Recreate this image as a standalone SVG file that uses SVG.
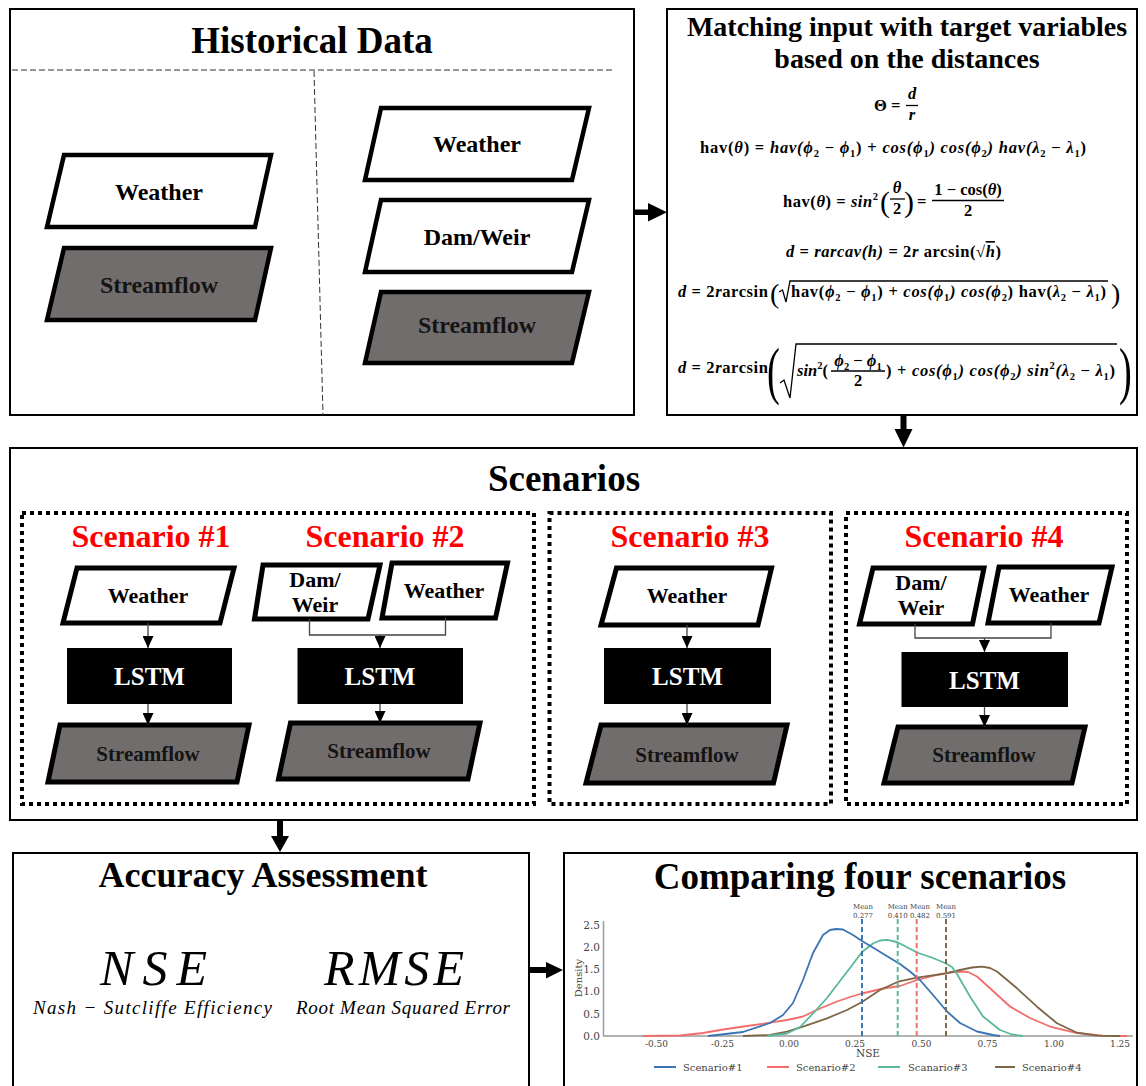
<svg xmlns="http://www.w3.org/2000/svg" width="1146" height="1086" viewBox="0 0 1146 1086">
  <defs>
    <style>
      .box{fill:#fff;stroke:#000;stroke-width:2}
      .title{font-family:"Liberation Serif","Times New Roman",serif;font-weight:bold;text-anchor:middle;fill:#000}
      .para{stroke:#000;stroke-width:5;stroke-linejoin:miter}
      .hp{stroke-width:4.5}
      .in{fill:#fff}
      .out{fill:#716d6d}
      .lbl{font-family:"Liberation Serif","Times New Roman",serif;font-weight:bold;text-anchor:middle;fill:#000}
      .olbl{fill:#141414}
      .dot{fill:none;stroke:#000;stroke-width:4;stroke-dasharray:4 4}
      .scn{fill:#ff0000;font-size:32px}
      .lstm{fill:#000}
      .lstmt{fill:#fff;font-size:25px}
      .thin{fill:none;stroke:#444;stroke-width:1.3}
      .big{fill:#000}
      .f{font-family:"Liberation Serif","Times New Roman",serif;font-weight:bold;font-size:16.5px;fill:#000}
      .i{font-style:italic}
      .s{font-size:10.5px;font-style:normal}
      .par{font-family:"Liberation Serif","Times New Roman",serif;font-weight:normal;fill:#000}
      .rule{stroke:#000;stroke-width:1.3;fill:none}
      .ax{stroke:#9a9a9a;stroke-width:1.5;fill:none}
      .tk{font-family:"DejaVu Serif",serif;fill:#444}
      .kde{fill:none;stroke-width:1.8;stroke-linejoin:round}
      .mean{stroke-width:2;stroke-dasharray:5 3}
      .acc{font-family:"Liberation Serif","Times New Roman",serif;font-style:italic;text-anchor:middle;fill:#000}
    </style>
    <marker id="tip" markerUnits="userSpaceOnUse" markerWidth="12" markerHeight="11" refX="12" refY="5.5" orient="auto">
      <path d="M0,0 L12,5.5 L0,11 z" fill="#000"/>
    </marker>
  </defs>

  <rect width="1146" height="1086" fill="#fff"/>

  <!-- Historical data panel -->
  <g id="historical-data">
    <rect class="box" x="10" y="9" width="624" height="406"/>
    <text class="title" x="312" y="53" font-size="37">Historical Data</text>
    <line x1="12" y1="70" x2="615" y2="70" stroke="#333" stroke-width="1" stroke-dasharray="6 3"/>
    <line x1="314" y1="71" x2="323" y2="415" stroke="#333" stroke-width="1" stroke-dasharray="6 3"/>
  </g>
  <g id="hist-weather-a">
    <polygon class="para hp in" points="64,155 271,155 255,227 47,227"/>
    <text class="lbl" x="159" y="200" font-size="24">Weather</text>
  </g>
  <g id="hist-streamflow-a">
    <polygon class="para hp out" points="64,248 271,248 255,320 47,320"/>
    <text class="lbl olbl" x="159" y="293" font-size="24">Streamflow</text>
  </g>
  <g id="hist-weather-b">
    <polygon class="para hp in" points="381,108 589,108 572,180 365,180"/>
    <text class="lbl" x="477" y="152" font-size="24">Weather</text>
  </g>
  <g id="hist-damweir-b">
    <polygon class="para hp in" points="381,200 589,200 572,272 365,272"/>
    <text class="lbl" x="477" y="245" font-size="24">Dam/Weir</text>
  </g>
  <g id="hist-streamflow-b">
    <polygon class="para hp out" points="381,292 589,292 572,363 365,363"/>
    <text class="lbl olbl" x="477" y="333" font-size="24">Streamflow</text>
  </g>

  <!-- Distance matching panel with haversine formulas -->
  <g id="matching">
    <rect class="box" x="667" y="9" width="470" height="406"/>
    <text class="title" x="907" y="36" font-size="28">Matching input with target variables</text>
    <text class="title" x="907" y="68" font-size="28">based on the distances</text>

    <text class="f" x="874" y="111">Θ =</text>
    <text class="f i" x="912" y="99" text-anchor="middle">d</text>
    <line class="rule" x1="906" y1="105.5" x2="918" y2="105.5"/>
    <text class="f i" x="912" y="120" text-anchor="middle">r</text>

    <text class="f" x="700" y="152.5" textLength="386" lengthAdjust="spacing">hav(<tspan class="i">θ</tspan>) = <tspan class="i">hav(ϕ</tspan><tspan class="s" dy="4">2</tspan><tspan dy="-4"> − </tspan><tspan class="i">ϕ</tspan><tspan class="s" dy="4">1</tspan><tspan dy="-4">) + </tspan><tspan class="i">cos(ϕ</tspan><tspan class="s" dy="4">1</tspan><tspan class="i" dy="-4">) cos(ϕ</tspan><tspan class="s" dy="4">2</tspan><tspan class="i" dy="-4">) hav(λ</tspan><tspan class="s" dy="4">2</tspan><tspan dy="-4"> − </tspan><tspan class="i">λ</tspan><tspan class="s" dy="4">1</tspan><tspan dy="-4">)</tspan></text>

    <text class="f" x="783" y="207" textLength="95" lengthAdjust="spacing">hav(<tspan class="i">θ</tspan>) = <tspan class="i">sin</tspan><tspan class="s" dy="-7">2</tspan></text>
    <text class="par" x="880" y="212" font-size="30">(</text>
    <text class="f i" x="897" y="193" text-anchor="middle">θ</text>
    <line class="rule" x1="890" y1="199" x2="905" y2="199"/>
    <text class="f" x="897" y="214" text-anchor="middle">2</text>
    <text class="par" x="904" y="212" font-size="30">)</text>
    <text class="f" x="917" y="207">=</text>
    <text class="f" x="968" y="195" text-anchor="middle">1 − cos(<tspan class="i">θ</tspan>)</text>
    <line class="rule" x1="932" y1="200.5" x2="1004" y2="200.5"/>
    <text class="f" x="968" y="216" text-anchor="middle">2</text>

    <text class="f" x="786" y="257" textLength="215" lengthAdjust="spacing"><tspan class="i">d</tspan> = <tspan class="i">rarcav(h)</tspan> = 2<tspan class="i">r</tspan> arcsin(√<tspan class="i" text-decoration="overline">h</tspan>)</text>

    <text class="f" x="678" y="297" textLength="90" lengthAdjust="spacing"><tspan class="i">d</tspan> = 2<tspan class="i">r</tspan>arcsin</text>
    <text class="par" x="770" y="303" font-size="28">(</text>
    <path class="rule" d="M779,292 L782.5,290 L786,302 L790,281 L1108,281"/>
    <text class="f" x="791" y="297" textLength="315" lengthAdjust="spacing">hav(<tspan class="i">ϕ</tspan><tspan class="s" dy="4">2</tspan><tspan dy="-4"> − </tspan><tspan class="i">ϕ</tspan><tspan class="s" dy="4">1</tspan><tspan dy="-4">) + </tspan><tspan class="i">cos(ϕ</tspan><tspan class="s" dy="4">1</tspan><tspan class="i" dy="-4">) cos(ϕ</tspan><tspan class="s" dy="4">2</tspan><tspan dy="-4">) hav(</tspan><tspan class="i">λ</tspan><tspan class="s" dy="4">2</tspan><tspan dy="-4"> − </tspan><tspan class="i">λ</tspan><tspan class="s" dy="4">1</tspan><tspan dy="-4">)</tspan></text>
    <text class="par" x="1111" y="303" font-size="28">)</text>

    <text class="f" x="678" y="373" textLength="90" lengthAdjust="spacing"><tspan class="i">d</tspan> = 2<tspan class="i">r</tspan>arcsin</text>
    <text class="par" font-size="64" transform="translate(767,392) scale(0.6,1)">(</text>
    <path class="rule" d="M780,383 L784,380 L790,398 L796,344 L1117,344"/>
    <text class="f" x="797" y="376"><tspan class="i">sin</tspan><tspan class="s" dy="-7">2</tspan><tspan dy="7">(</tspan></text>
    <text class="f" x="858" y="366" text-anchor="middle"><tspan class="i">ϕ</tspan><tspan class="s" dy="4">2</tspan><tspan dy="-4"> − </tspan><tspan class="i">ϕ</tspan><tspan class="s" dy="4">1</tspan></text>
    <line class="rule" x1="831" y1="371" x2="885" y2="371"/>
    <text class="f" x="858" y="386" text-anchor="middle">2</text>
    <text class="f" x="886" y="376" textLength="229" lengthAdjust="spacing">) + <tspan class="i">cos(ϕ</tspan><tspan class="s" dy="4">1</tspan><tspan class="i" dy="-4">) cos(ϕ</tspan><tspan class="s" dy="4">2</tspan><tspan class="i" dy="-4">) sin</tspan><tspan class="s" dy="-7">2</tspan><tspan class="i" dy="7">(λ</tspan><tspan class="s" dy="4">2</tspan><tspan dy="-4"> − </tspan><tspan class="i">λ</tspan><tspan class="s" dy="4">1</tspan><tspan dy="-4">)</tspan></text>
    <text class="par" font-size="64" transform="translate(1119,392) scale(0.6,1)">)</text>
  </g>

  <!-- Scenario panel -->
  <g id="scenarios">
    <rect class="box" x="10" y="448" width="1127" height="372"/>
    <text class="title" x="564" y="491" font-size="37">Scenarios</text>
    <rect class="dot" x="22" y="513" width="512" height="291"/>
    <rect class="dot" x="549.5" y="513" width="281.5" height="291"/>
    <rect class="dot" x="846" y="513" width="281" height="291"/>
    <text class="title scn" x="151" y="547">Scenario #1</text>
    <text class="title scn" x="385" y="547">Scenario #2</text>
    <text class="title scn" x="690" y="547">Scenario #3</text>
    <text class="title scn" x="984" y="547">Scenario #4</text>
  </g>

  <!-- Scenario 1 -->
  <g id="s1-weather">
    <polygon class="para in" points="77,568 234,568 220,623 63,623"/>
    <text class="lbl" x="148" y="603" font-size="22">Weather</text>
  </g>
  <g id="s1-lstm">
    <rect class="lstm" x="67" y="648" width="165" height="56"/>
    <text class="lbl lstmt" x="149.5" y="685">LSTM</text>
  </g>
  <g id="s1-streamflow">
    <polygon class="para out" points="60,725 249,725 237,782 48,782"/>
    <text class="lbl olbl" x="148" y="761" font-size="21">Streamflow</text>
  </g>

  <!-- Scenario 2 -->
  <g id="s2-damweir">
    <polygon class="para in" points="263,565 380,565 368,619 254.5,619"/>
    <text class="lbl" x="315" y="587" font-size="22">Dam/</text>
    <text class="lbl" x="315" y="612" font-size="22">Weir</text>
  </g>
  <g id="s2-weather">
    <polygon class="para in" points="392,563 507.5,563 495.5,618 382,618"/>
    <text class="lbl" x="444" y="598" font-size="22">Weather</text>
  </g>
  <g id="s2-lstm">
    <rect class="lstm" x="297.5" y="648" width="165.5" height="56"/>
    <text class="lbl lstmt" x="380" y="685">LSTM</text>
  </g>
  <g id="s2-streamflow">
    <polygon class="para out" points="290.5,723 480,723 468,779 278.5,779"/>
    <text class="lbl olbl" x="379" y="758" font-size="21">Streamflow</text>
  </g>

  <!-- Scenario 3 -->
  <g id="s3-weather">
    <polygon class="para in" points="616.5,568 771.5,568 758,625 601,625"/>
    <text class="lbl" x="687" y="603" font-size="22">Weather</text>
  </g>
  <g id="s3-lstm">
    <rect class="lstm" x="604" y="648" width="167" height="56"/>
    <text class="lbl lstmt" x="687.5" y="685">LSTM</text>
  </g>
  <g id="s3-streamflow">
    <polygon class="para out" points="601,725 787,725 773.5,783 586,783"/>
    <text class="lbl olbl" x="687" y="762" font-size="21">Streamflow</text>
  </g>

  <!-- Scenario 4 -->
  <g id="s4-damweir">
    <polygon class="para in" points="873,568 984,568 972.5,624 859.5,624"/>
    <text class="lbl" x="921" y="590" font-size="22">Dam/</text>
    <text class="lbl" x="921" y="615" font-size="22">Weir</text>
  </g>
  <g id="s4-weather">
    <polygon class="para in" points="999,567 1112,567 1099,623 988,623"/>
    <text class="lbl" x="1049" y="602" font-size="22">Weather</text>
  </g>
  <g id="s4-lstm">
    <rect class="lstm" x="901.5" y="652" width="166.5" height="55"/>
    <text class="lbl lstmt" x="984.5" y="689">LSTM</text>
  </g>
  <g id="s4-streamflow">
    <polygon class="para out" points="898,727 1085,727 1072,783 884,783"/>
    <text class="lbl olbl" x="984" y="762" font-size="21">Streamflow</text>
  </g>

  <!-- Accuracy assessment panel -->
  <g id="accuracy">
    <rect class="box" x="13" y="853" width="516" height="240"/>
    <text class="title" x="263" y="887" font-size="36">Accuracy Assessment</text>
    <text class="acc" x="153.5" y="985" font-size="50" textLength="107" lengthAdjust="spacing">NSE</text>
    <text class="acc" x="394" y="985" font-size="50" textLength="140" lengthAdjust="spacing">RMSE</text>
    <text class="acc" x="152.5" y="1014" font-size="19" textLength="239" lengthAdjust="spacing">Nash − Sutcliffe Efficiency</text>
    <text class="acc" x="403" y="1014" font-size="19" textLength="214" lengthAdjust="spacing">Root Mean Squared Error</text>
  </g>

  <!-- Comparison panel with NSE density plot -->
  <g id="comparison">
    <rect class="box" x="564" y="853" width="573" height="240"/>
    <text class="title" x="860" y="889" font-size="37">Comparing four scenarios</text>

    <path class="ax" d="M603.5,921 L603.5,1036 L1133,1036"/>
    <g class="tk" font-size="10.5" text-anchor="end">
      <text x="600" y="1040">0.0</text>
      <text x="600" y="1017.5">0.5</text>
      <text x="600" y="995">1.0</text>
      <text x="600" y="973">1.5</text>
      <text x="600" y="950.5">2.0</text>
      <text x="600" y="928.5">2.5</text>
    </g>
    <g class="tk" font-size="9" text-anchor="middle">
      <text x="656.5" y="1047">-0.50</text>
      <text x="722.5" y="1047">-0.25</text>
      <text x="789" y="1047">0.00</text>
      <text x="855" y="1047">0.25</text>
      <text x="921.5" y="1047">0.50</text>
      <text x="987.5" y="1047">0.75</text>
      <text x="1054" y="1047">1.00</text>
      <text x="1120" y="1047">1.25</text>
    </g>
    <text class="tk" font-size="10" text-anchor="middle" transform="translate(582,978) rotate(-90)">Density</text>
    <text class="tk" font-size="10.5" text-anchor="middle" x="868" y="1057">NSE</text>

    <!-- kernel density curves -->
    <polyline class="kde" stroke="#f26d6a" points="643,1036 680,1035.5 703,1033 723,1029.5 747,1026 770,1022.7 787,1020 803,1016.5 820,1008.5 837,1001.5 850,997 862,993.5 883,988.5 900,986 917,980 937,975 950,972.5 960,971.5 968,972 977,976.5 993,991 1010,1006.5 1030,1018 1050,1026.5 1077,1033 1103,1035.7 1127,1036"/>
    <polyline class="kde" stroke="#7b6746" points="743,1036 770,1035 787,1031.7 803,1026.7 827,1018.3 847,1010 862,1002 880,990 898,981.7 917,977.7 946,973.3 960,970 972,967.5 982,966.7 990,968 997,971.5 1017,988.3 1037,1006.7 1057,1023.3 1077,1032.7 1097,1035.7 1120,1036"/>
    <polyline class="kde" stroke="#5ab89d" points="767,1036 787,1033.5 800,1027 813,1013.5 827,998 843,977 850,968 862,952 873,943.5 880,940.5 887,939.8 897,942 917,952.5 933,958 946,963.5 952,967 957,974 970,996.5 983,1016.5 1000,1030 1012,1034.5 1023,1036"/>
    <polyline class="kde" stroke="#3a74b3" points="708,1036 743,1032 770,1023 783,1015 793,1003 803,980 813,953 823,935 830,930 836,929 843,929.5 853,935 862,941 877,950 890,958 900,964 910,971.5 920,980 933,995 947,1011.5 960,1023 977,1031.5 993,1035 1000,1036"/>

    <!-- mean markers -->
    <line class="mean" x1="862" y1="919" x2="862" y2="1036" stroke="#3a74b3"/>
    <line class="mean" x1="897.7" y1="919" x2="897.7" y2="1036" stroke="#5ab89d"/>
    <line class="mean" x1="916.7" y1="919" x2="916.7" y2="1036" stroke="#f26d6a"/>
    <line class="mean" x1="946" y1="919" x2="946" y2="1036" stroke="#7b6746"/>
    <g class="tk" font-size="7" text-anchor="middle">
      <text x="863" y="909">Mean</text>
      <text x="863" y="917.5">0.277</text>
      <text x="897.7" y="909">Mean</text>
      <text x="897.7" y="917.5">0.410</text>
      <text x="920" y="909">Mean</text>
      <text x="920" y="917.5">0.482</text>
      <text x="946" y="909">Mean</text>
      <text x="946" y="917.5">0.591</text>
    </g>

    <!-- legend -->
    <g stroke-width="2">
      <line x1="654" y1="1067" x2="676" y2="1067" stroke="#3a74b3"/>
      <line x1="767" y1="1067" x2="789" y2="1067" stroke="#f26d6a"/>
      <line x1="878" y1="1067" x2="900" y2="1067" stroke="#5ab89d"/>
      <line x1="995" y1="1067" x2="1015" y2="1067" stroke="#7b6746"/>
    </g>
    <g class="tk" font-size="10">
      <text x="683" y="1070.5">Scenario#1</text>
      <text x="796" y="1070.5">Scenario#2</text>
      <text x="908" y="1070.5">Scanario#3</text>
      <text x="1022" y="1070.5">Scenario#4</text>
    </g>
  </g>

  <!-- Connectors -->
  <g id="connectors">
    <!-- flow between panels -->
    <rect class="big" x="634" y="209.5" width="16" height="5.5"/>
    <polygon class="big" points="648,203 667,212.3 648,221.5"/>
    <rect class="big" x="900.5" y="416" width="6" height="15"/>
    <polygon class="big" points="894.5,429 912.5,429 903.5,447.5"/>
    <rect class="big" x="277" y="821" width="6" height="17"/>
    <polygon class="big" points="271,836 289,836 280,852"/>
    <rect class="big" x="529" y="967" width="19" height="6"/>
    <polygon class="big" points="546,962 563,970 546,978.5"/>

    <!-- scenario 1 -->
    <line class="thin" x1="148" y1="623" x2="148" y2="648" marker-end="url(#tip)"/>
    <line class="thin" x1="148" y1="704" x2="148" y2="725" marker-end="url(#tip)"/>
    <!-- scenario 2 -->
    <polyline class="thin" points="309.5,619 309.5,635 445.5,635 445.5,618"/>
    <line class="thin" x1="380" y1="635" x2="380" y2="648" marker-end="url(#tip)"/>
    <line class="thin" x1="380" y1="704" x2="380" y2="723" marker-end="url(#tip)"/>
    <!-- scenario 3 -->
    <line class="thin" x1="687" y1="625" x2="687" y2="648" marker-end="url(#tip)"/>
    <line class="thin" x1="687" y1="704" x2="687" y2="725" marker-end="url(#tip)"/>
    <!-- scenario 4 -->
    <polyline class="thin" points="915,624 915,638 1051,638 1051,623"/>
    <line class="thin" x1="984.5" y1="638" x2="984.5" y2="652" marker-end="url(#tip)"/>
    <line class="thin" x1="984.5" y1="707" x2="984.5" y2="727" marker-end="url(#tip)"/>
  </g>
</svg>
